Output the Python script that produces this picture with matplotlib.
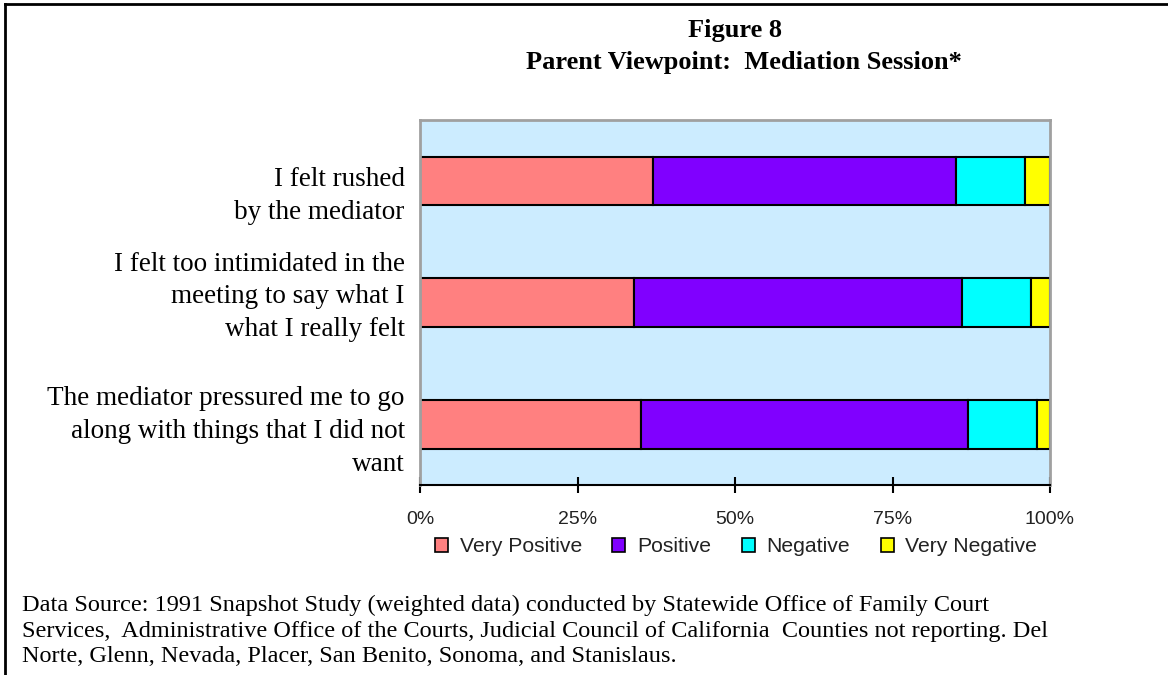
import matplotlib
matplotlib.use("Agg")
import matplotlib.pyplot as plt
from matplotlib.lines import Line2D
from matplotlib.ticker import FuncFormatter
from matplotlib.transforms import ScaledTranslation
import numpy as np

categories = [
    "I felt rushed\nby the mediator",
    "I felt too intimidated in the\nmeeting to say what I\nwhat I really felt",
    "The mediator pressured me to go\nalong with things that I did not\nwant",
]
series_names = ["Very Positive", "Positive", "Negative", "Very Negative"]
very_positive = [37, 34, 35]
positive = [48, 52, 52]
negative = [11, 11, 11]
very_negative = [4, 3, 2]
colors = ["#FF8080", "#8000FF", "#00FFFF", "#FFFF00"]
x_ticks = [0, 25, 50, 75, 100]

fig = plt.figure(figsize=(11.68, 6.75), dpi=100)
ax = fig.add_axes([420/1168, 1-485/675, 630/1168, 365/675])
ax.set_facecolor("#CCECFF")

y = np.arange(len(categories))
left = np.zeros(len(categories))
for name, vals, c in zip(series_names, [very_positive, positive, negative, very_negative], colors):
    ax.barh(y, vals, left=left, height=0.4, color=c, edgecolor="black", linewidth=1.5, label=name)
    left += np.array(vals)

ax.set_xlim(0, 100)
ax.set_ylim(2.5, -0.5)
ax.set_yticks(y)
ax.set_yticklabels(categories, fontfamily="Liberation Serif", fontsize=19.5, linespacing=1.42)
ax.tick_params(axis="y", length=0, pad=11)
# small vertical nudges of the multi-line labels (points)
label_offsets = [-6, 9, 0]
for lab, off in zip(ax.get_yticklabels(), label_offsets):
    lab.set_transform(lab.get_transform() + ScaledTranslation(0, off/72, fig.dpi_scale_trans))

ax.set_xticks(x_ticks)
ax.xaxis.set_major_formatter(FuncFormatter(lambda v, p: f"{int(v)}%"))
ax.tick_params(axis="x", direction="inout", length=12, width=1.5, pad=13, colors="black")
for lab in ax.get_xticklabels():
    lab.set_fontfamily("Liberation Sans")
    lab.set_fontsize(14)
    lab.set_color("#222222")
for s in ["top", "right", "left"]:
    ax.spines[s].set_color("#A0A0A0")
    ax.spines[s].set_linewidth(2)
ax.spines["bottom"].set_color("black")
ax.spines["bottom"].set_linewidth(1.5)

leg = fig.legend(loc="center", bbox_to_anchor=(736/1168, 1-547/675), ncol=4, frameon=False,
                 prop={"family": "Liberation Sans", "size": 15.2}, handlelength=0.62, handleheight=0.62,
                 handletextpad=0.55, columnspacing=1.45)
for h in leg.legend_handles:
    h.set_linewidth(1.2)
for t in leg.get_texts():
    t.set_color("#222222")

fig.text(735/1168, 1-31/675, "Figure 8", ha="center", va="center",
         fontfamily="Liberation Serif", fontweight="bold", fontsize=19)
fig.text(744/1168, 1-63/675, "Parent Viewpoint:  Mediation Session*", ha="center", va="center",
         fontfamily="Liberation Serif", fontweight="bold", fontsize=19)

foot = ("Data Source: 1991 Snapshot Study (weighted data) conducted by Statewide Office of Family Court\n"
        "Services,  Administrative Office of the Courts, Judicial Council of California  Counties not reporting. Del\n"
        "Norte, Glenn, Nevada, Placer, San Benito, Sonoma, and Stanislaus.")
fig.text(22/1168, 1-631/675, foot, ha="left", va="center", fontfamily="Liberation Serif",
         fontsize=17.5, linespacing=1.27)

fig.add_artist(Line2D([5/1168, 5/1168], [0, 1-4/675], transform=fig.transFigure, color="black", linewidth=2))
fig.add_artist(Line2D([5/1168, 1], [1-4/675, 1-4/675], transform=fig.transFigure, color="black", linewidth=2))

fig.savefig("out.png", dpi=100)
